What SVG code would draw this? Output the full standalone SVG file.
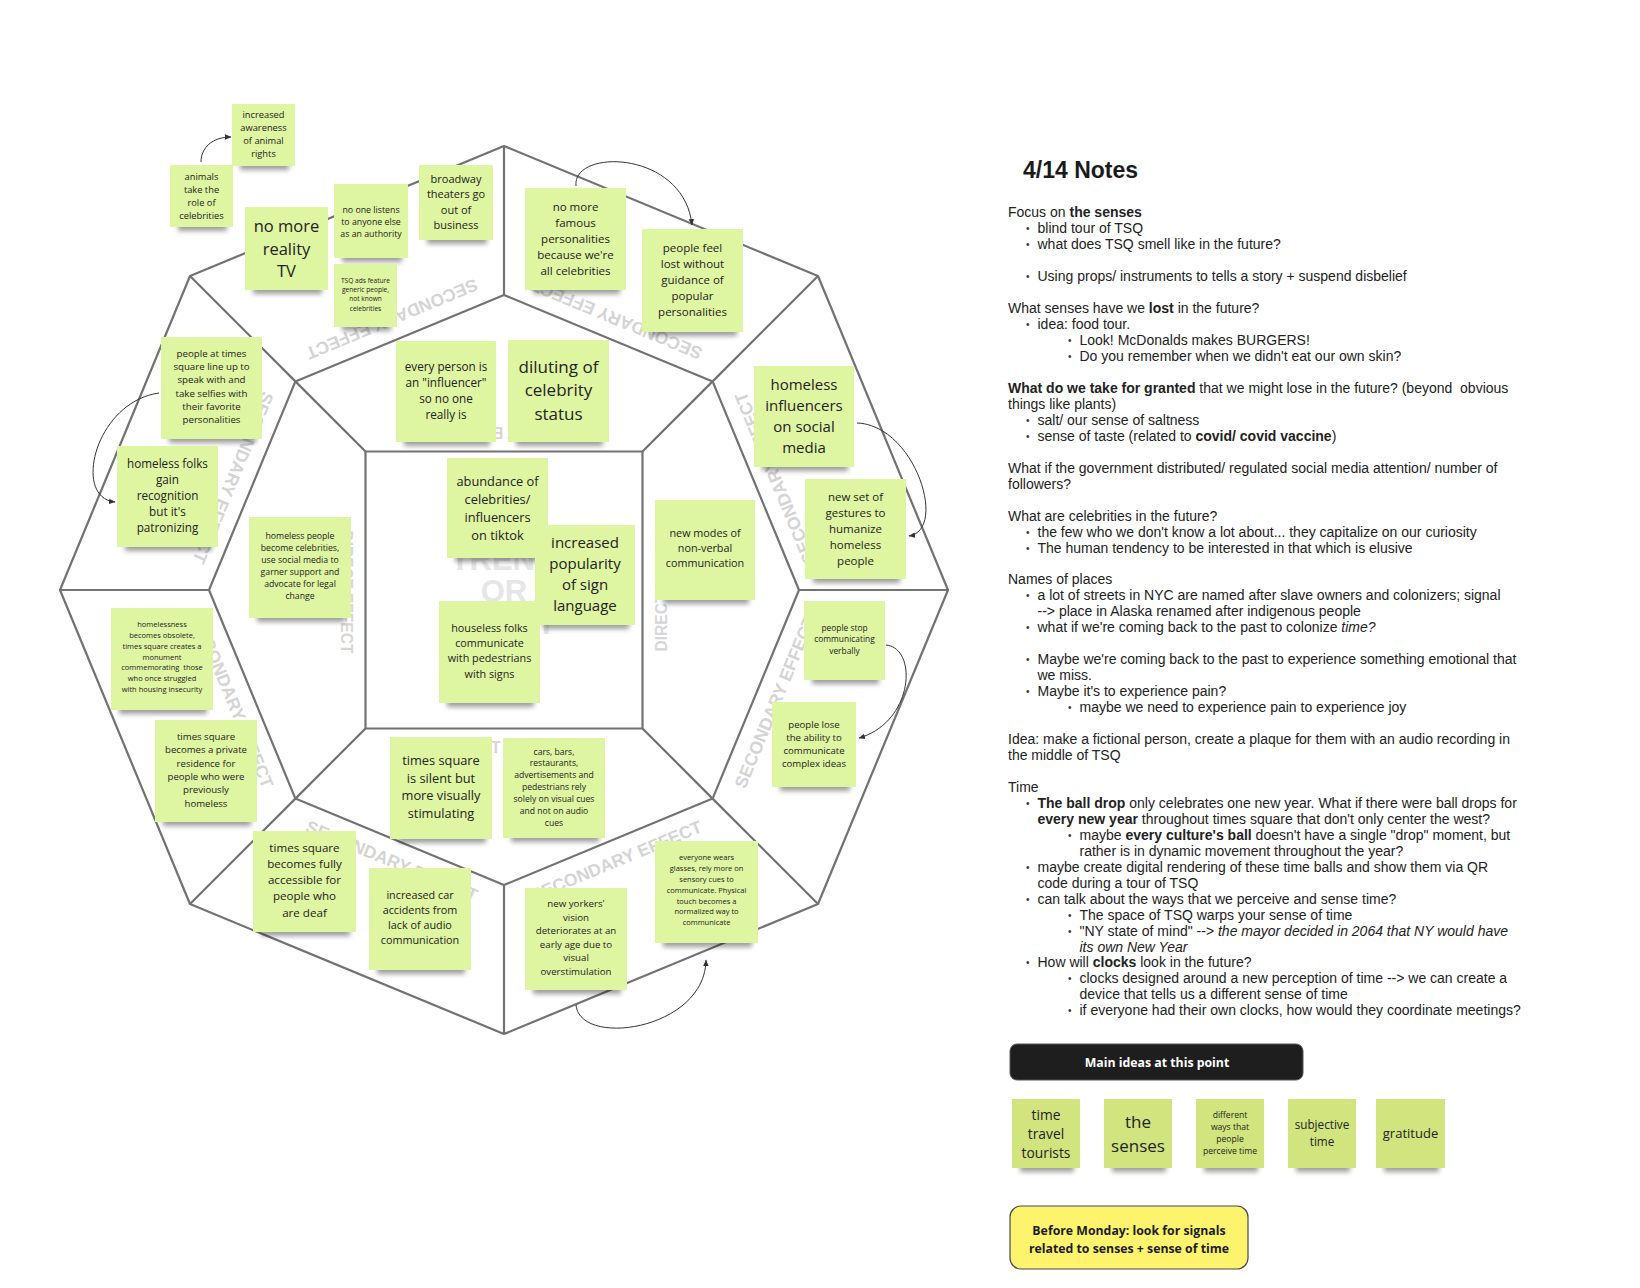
<svg xmlns="http://www.w3.org/2000/svg" width="1640" height="1288" viewBox="0 0 1640 1288">
<defs>
<filter id="bl" x="-30%" y="-100%" width="160%" height="300%"><feGaussianBlur stdDeviation="2.6"/></filter>
<marker id="ar" markerWidth="7" markerHeight="7" refX="6" refY="3.5" orient="auto" markerUnits="userSpaceOnUse"><path d="M0,0.8 L6.5,3.5 L0,6.2 z" fill="#333"/></marker>
</defs>
<style>
.ln{fill:none;stroke:#727272;stroke-width:2.2;stroke-linejoin:round}
.s{fill:#def5a1}
.s2{fill:#d1e47d}
.sh{fill:#000;opacity:.38;filter:url(#bl)}
.t{font-family:"Open Sans","Noto Sans",sans-serif;fill:#232323;text-anchor:middle}
.wm{font-family:"Liberation Sans",Arial,sans-serif;font-weight:bold;fill:#d4d4d4;text-anchor:middle;font-size:17.5px}
.dw{font-family:"Liberation Sans",Arial,sans-serif;font-weight:bold;fill:#d6d6d6;text-anchor:middle;font-size:15.6px}
.cw{font-family:"Liberation Sans",Arial,sans-serif;font-weight:bold;fill:#e6e6e6;text-anchor:middle;font-size:31px}
.n{font-family:"Liberation Sans",Arial,sans-serif;font-size:14px;fill:#222}
.ttl{font-family:"Liberation Sans",Arial,sans-serif;font-size:23px;font-weight:bold;fill:#1a1a1a}
.b{font-weight:bold}
.i{font-style:italic}
.bu{font-family:"Liberation Sans",Arial,sans-serif;font-size:10px;fill:#333}
.cn{fill:none;stroke:#333;stroke-width:1}
</style>
<rect width="1640" height="1288" fill="#ffffff"/>

<g id="wheel">
<polygon class="ln" points="504,146 818,276 948,590 818,904 504,1034 190,904 60,590 190,276"/>
<polygon class="ln" points="504,295 712.6,381.4 799,590 712.6,798.6 504,885 295.4,798.6 209,590 295.4,381.4"/>
<rect class="ln" x="365.5" y="451.5" width="277" height="277"/>
<path class="ln" d="M504,295 L504,146 M712.6,381.4 L818,276 M799,590 L948,590 M712.6,798.6 L818,904 M504,885 L504,1034 M295.4,798.6 L190,904 M209,590 L60,590 M295.4,381.4 L190,276 M365.5,451.5 L295.4,381.4 M642.5,451.5 L712.6,381.4 M642.5,728.5 L712.6,798.6 M365.5,728.5 L295.4,798.6"/>
</g>

<g id="watermarks">
<text class="wm" transform="translate(391.9,319.3) rotate(157.5)" x="0" y="6.3">SECONDARY EFFECT</text>
<text class="wm" transform="translate(616.1,319.3) rotate(-157.5)" x="0" y="6.3">SECONDARY EFFECT</text>
<text class="wm" transform="translate(774.7,477.9) rotate(-112.5)" x="0" y="6.3">SECONDARY EFFECT</text>
<text class="wm" transform="translate(774.7,702.1) rotate(-67.5)" x="0" y="6.3">SECONDARY EFFECT</text>
<text class="wm" transform="translate(616.1,860.7) rotate(-22.5)" x="0" y="6.3">SECONDARY EFFECT</text>
<text class="wm" transform="translate(391.9,860.7) rotate(22.5)" x="0" y="6.3">SECONDARY EFFECT</text>
<text class="wm" transform="translate(233.3,702.1) rotate(67.5)" x="0" y="6.3">SECONDARY EFFECT</text>
<text class="wm" transform="translate(233.3,477.9) rotate(112.5)" x="0" y="6.3">SECONDARY EFFECT</text>
<text class="dw" transform="translate(661,590) rotate(-90)" x="0" y="5.6">DIRECT EFFECT</text>
<text class="dw" transform="translate(347,592) rotate(90)" x="0" y="5.6">DIRECT EFFECT</text>
<text class="dw" transform="translate(504,433) rotate(180)" x="0" y="5.6">DIRECT EFFECT</text>
<text class="dw" transform="translate(504,747)" x="0" y="5.6">DIRECT EFFECT</text>
<text class="cw" x="504" y="570">TREND</text>
<text class="cw" x="504" y="602">OR</text>
<text class="cw" x="504" y="634">EVENT</text>
</g>

<g id="n-awareness"><rect class="sh" x="240" y="160" width="49" height="10"/><rect class="s" x="232" y="104" width="63" height="62"/>
<text class="t" font-size="9.3"><tspan x="263.5" y="117.7">increased</tspan><tspan x="263.5" y="130.7">awareness</tspan><tspan x="263.5" y="143.7">of animal</tspan><tspan x="263.5" y="156.7">rights</tspan></text></g>

<g id="n-animals"><rect class="sh" x="178" y="221" width="49" height="10"/><rect class="s" x="170" y="165" width="63" height="62"/>
<text class="t" font-size="9.3"><tspan x="201.5" y="179.7">animals</tspan><tspan x="201.5" y="192.7">take the</tspan><tspan x="201.5" y="205.7">role of</tspan><tspan x="201.5" y="218.7">celebrities</tspan></text></g>

<g id="n-reality"><rect class="sh" x="253" y="284" width="69" height="10"/><rect class="s" x="245" y="207" width="83" height="83"/>
<text class="t" font-size="16.5"><tspan x="286.5" y="232">no more</tspan><tspan x="286.5" y="254.6">reality</tspan><tspan x="286.5" y="277">TV</tspan></text></g>

<g id="n-listens"><rect class="sh" x="342" y="252" width="60" height="10"/><rect class="s" x="334" y="184" width="74" height="74"/>
<text class="t" font-size="8.8"><tspan x="371" y="212.8">no one listens</tspan><tspan x="371" y="224.8">to anyone else</tspan><tspan x="371" y="236.8">as an authority</tspan></text></g>

<g id="n-tsqads"><rect class="sh" x="342" y="321" width="49" height="10"/><rect class="s" x="334" y="264" width="63" height="63"/>
<text class="t" font-size="6.6"><tspan x="365.5" y="283.1">TSQ ads feature</tspan><tspan x="365.5" y="292.4">generic people,</tspan><tspan x="365.5" y="301.4">not known</tspan><tspan x="365.5" y="311">celebrities</tspan></text></g>

<g id="n-broadway"><rect class="sh" x="427" y="234" width="60" height="10"/><rect class="s" x="419" y="165" width="74" height="75"/>
<text class="t" font-size="11"><tspan x="456" y="182.5">broadway</tspan><tspan x="456" y="198.1">theaters go</tspan><tspan x="456" y="213.7">out of</tspan><tspan x="456" y="229.3">business</tspan></text></g>

<g id="n-famous"><rect class="sh" x="533" y="284" width="87" height="10"/><rect class="s" x="525" y="188" width="101" height="102"/>
<text class="t" font-size="11.5"><tspan x="575.5" y="210.7">no more</tspan><tspan x="575.5" y="226.7">famous</tspan><tspan x="575.5" y="242.7">personalities</tspan><tspan x="575.5" y="258.7">because we're</tspan><tspan x="575.5" y="274.7">all celebrities</tspan></text></g>

<g id="n-lost"><rect class="sh" x="650" y="326" width="87" height="10"/><rect class="s" x="642" y="229" width="101" height="103"/>
<text class="t" font-size="11.5"><tspan x="692.5" y="251.7">people feel</tspan><tspan x="692.5" y="267.7">lost without</tspan><tspan x="692.5" y="283.7">guidance of</tspan><tspan x="692.5" y="299.7">popular</tspan><tspan x="692.5" y="315.7">personalities</tspan></text></g>

<g id="n-lineup"><rect class="sh" x="169" y="433" width="87" height="10"/><rect class="s" x="161" y="337" width="101" height="102"/>
<text class="t" font-size="9.7"><tspan x="211.5" y="356.8">people at times</tspan><tspan x="211.5" y="370.1">square line up to</tspan><tspan x="211.5" y="383.4">speak with and</tspan><tspan x="211.5" y="396.7">take selfies with</tspan><tspan x="211.5" y="410">their favorite</tspan><tspan x="211.5" y="423.3">personalities</tspan></text></g>

<g id="n-everyperson"><rect class="sh" x="404" y="436" width="86" height="10"/><rect class="s" x="396" y="341" width="100" height="101"/>
<text class="t" font-size="11.7"><tspan x="446" y="370.8">every person is</tspan><tspan x="446" y="386.8">an "influencer"</tspan><tspan x="446" y="402.8">so no one</tspan><tspan x="446" y="418.8">really is</tspan></text></g>

<g id="n-diluting"><rect class="sh" x="516" y="436" width="87" height="10"/><rect class="s" x="508" y="340" width="101" height="102"/>
<text class="t" font-size="17"><tspan x="558.5" y="372.5">diluting of</tspan><tspan x="558.5" y="396">celebrity</tspan><tspan x="558.5" y="419.5">status</tspan></text></g>

<g id="n-influencers"><rect class="sh" x="762" y="461" width="86" height="10"/><rect class="s" x="754" y="366" width="100" height="101"/>
<text class="t" font-size="15"><tspan x="804" y="389.5">homeless</tspan><tspan x="804" y="410.5">influencers</tspan><tspan x="804" y="431.5">on social</tspan><tspan x="804" y="452.5">media</tspan></text></g>

<g id="n-gestures"><rect class="sh" x="813" y="573" width="87" height="10"/><rect class="s" x="805" y="479" width="101" height="100"/>
<text class="t" font-size="11.5"><tspan x="855.5" y="500.5">new set of</tspan><tspan x="855.5" y="516.7">gestures to</tspan><tspan x="855.5" y="532.9">humanize</tspan><tspan x="855.5" y="549.1">homeless</tspan><tspan x="855.5" y="565.3">people</tspan></text></g>

<g id="n-recognition"><rect class="sh" x="125" y="541" width="87" height="10"/><rect class="s" x="117" y="446" width="101" height="101"/>
<text class="t" font-size="11.7"><tspan x="167.5" y="467.5">homeless folks</tspan><tspan x="167.5" y="483.7">gain</tspan><tspan x="167.5" y="499.9">recognition</tspan><tspan x="167.5" y="516.1">but it's</tspan><tspan x="167.5" y="532.3">patronizing</tspan></text></g>

<g id="n-homelesscelebs"><rect class="sh" x="257" y="612" width="88" height="10"/><rect class="s" x="249" y="517" width="102" height="101"/>
<text class="t" font-size="8.7"><tspan x="300" y="538.5">homeless people</tspan><tspan x="300" y="550.5">become celebrities,</tspan><tspan x="300" y="562.5">use social media to</tspan><tspan x="300" y="574.5">garner support and</tspan><tspan x="300" y="586.5">advocate for legal</tspan><tspan x="300" y="598.5">change</tspan></text></g>

<g id="n-abundance"><rect class="sh" x="455" y="552" width="87" height="10"/><rect class="s" x="447" y="458" width="101" height="100"/>
<text class="t" font-size="12.8"><tspan x="497.5" y="485.8">abundance of</tspan><tspan x="497.5" y="503.8">celebrities/</tspan><tspan x="497.5" y="521.8">influencers</tspan><tspan x="497.5" y="539.8">on tiktok</tspan></text></g>

<g id="n-signlanguage"><rect class="sh" x="543" y="619" width="86" height="10"/><rect class="s" x="535" y="525" width="100" height="100"/>
<text class="t" font-size="15"><tspan x="585" y="547.5">increased</tspan><tspan x="585" y="568.6">popularity</tspan><tspan x="585" y="589.7">of sign</tspan><tspan x="585" y="610.8">language</tspan></text></g>

<g id="n-houseless"><rect class="sh" x="447" y="697" width="87" height="10"/><rect class="s" x="439" y="601" width="101" height="102"/>
<text class="t" font-size="10.8"><tspan x="489.5" y="631.8">houseless folks</tspan><tspan x="489.5" y="647.1">communicate</tspan><tspan x="489.5" y="662.4">with pedestrians</tspan><tspan x="489.5" y="677.7">with signs</tspan></text></g>

<g id="n-nonverbal"><rect class="sh" x="663" y="594" width="86" height="10"/><rect class="s" x="655" y="500" width="100" height="100"/>
<text class="t" font-size="10.8"><tspan x="705" y="536.9">new modes of</tspan><tspan x="705" y="552.1">non-verbal</tspan><tspan x="705" y="567.3">communication</tspan></text></g>

<g id="n-stopverbal"><rect class="sh" x="812" y="674" width="67" height="10"/><rect class="s" x="804" y="601" width="81" height="79"/>
<text class="t" font-size="8.4"><tspan x="844.5" y="631">people stop</tspan><tspan x="844.5" y="642.4">communicating</tspan><tspan x="844.5" y="653.8">verbally</tspan></text></g>

<g id="n-complexideas"><rect class="sh" x="780" y="781" width="70" height="10"/><rect class="s" x="772" y="702" width="84" height="85"/>
<text class="t" font-size="9.6"><tspan x="814" y="727.8">people lose</tspan><tspan x="814" y="740.9">the ability to</tspan><tspan x="814" y="754">communicate</tspan><tspan x="814" y="767.1">complex ideas</tspan></text></g>

<g id="n-obsolete"><rect class="sh" x="119" y="704" width="88" height="10"/><rect class="s" x="111" y="608" width="102" height="102"/>
<text class="t" font-size="7.5" xml:space="preserve"><tspan x="162" y="627.4">homelessness</tspan><tspan x="162" y="638.1">becomes obsolete,</tspan><tspan x="162" y="648.8">times square creates a</tspan><tspan x="162" y="659.5">monument</tspan><tspan x="162" y="670.2">commemorating  those</tspan><tspan x="162" y="680.9">who once struggled</tspan><tspan x="162" y="691.6">with housing insecurity</tspan></text></g>

<g id="n-residence"><rect class="sh" x="163" y="816" width="88" height="10"/><rect class="s" x="155" y="720" width="102" height="102"/>
<text class="t" font-size="9.6"><tspan x="206" y="739.8">times square</tspan><tspan x="206" y="753.2">becomes a private</tspan><tspan x="206" y="766.6">residence for</tspan><tspan x="206" y="780">people who were</tspan><tspan x="206" y="793.4">previously</tspan><tspan x="206" y="806.8">homeless</tspan></text></g>

<g id="n-accessible"><rect class="sh" x="261" y="926" width="89" height="10"/><rect class="s" x="253" y="831" width="103" height="101"/>
<text class="t" font-size="11.6"><tspan x="304.5" y="851.7">times square</tspan><tspan x="304.5" y="867.9">becomes fully</tspan><tspan x="304.5" y="884.1">accessible for</tspan><tspan x="304.5" y="900.3">people who</tspan><tspan x="304.5" y="916.5">are deaf</tspan></text></g>

<g id="n-caraccidents"><rect class="sh" x="377" y="964" width="88" height="10"/><rect class="s" x="369" y="868" width="102" height="102"/>
<text class="t" font-size="10.8"><tspan x="420" y="898.8">increased car</tspan><tspan x="420" y="914">accidents from</tspan><tspan x="420" y="929.2">lack of audio</tspan><tspan x="420" y="944.4">communication</tspan></text></g>

<g id="n-silent"><rect class="sh" x="398" y="833" width="88" height="10"/><rect class="s" x="390" y="737" width="102" height="102"/>
<text class="t" font-size="12.8"><tspan x="441" y="764.8">times square</tspan><tspan x="441" y="782.5">is silent but</tspan><tspan x="441" y="800.2">more visually</tspan><tspan x="441" y="817.9">stimulating</tspan></text></g>

<g id="n-visualcues"><rect class="sh" x="511" y="832" width="88" height="10"/><rect class="s" x="503" y="738" width="102" height="100"/>
<text class="t" font-size="8.6"><tspan x="554" y="754.5">cars, bars,</tspan><tspan x="554" y="766.4">restaurants,</tspan><tspan x="554" y="778.3">advertisements and</tspan><tspan x="554" y="790.2">pedestrians rely</tspan><tspan x="554" y="802.1">solely on visual cues</tspan><tspan x="554" y="814">and not on audio</tspan><tspan x="554" y="825.9">cues</tspan></text></g>

<g id="n-vision"><rect class="sh" x="533" y="984" width="88" height="10"/><rect class="s" x="525" y="888" width="102" height="102"/>
<text class="t" font-size="9.7"><tspan x="576" y="907.4">new yorkers'</tspan><tspan x="576" y="920.9">vision</tspan><tspan x="576" y="934.4">deteriorates at an</tspan><tspan x="576" y="947.9">early age due to</tspan><tspan x="576" y="961.4">visual</tspan><tspan x="576" y="974.9">overstimulation</tspan></text></g>

<g id="n-glasses"><rect class="sh" x="663" y="937" width="89" height="10"/><rect class="s" x="655" y="841" width="103" height="102"/>
<text class="t" font-size="7.5"><tspan x="706.5" y="860.4">everyone wears</tspan><tspan x="706.5" y="871.2">glasses, rely more on</tspan><tspan x="706.5" y="882">sensory cues to</tspan><tspan x="706.5" y="892.8">communicate. Physical</tspan><tspan x="706.5" y="903.6">touch becomes a</tspan><tspan x="706.5" y="914.4">normalized way to</tspan><tspan x="706.5" y="925.2">communicate</tspan></text></g>

<g id="connectors">
<path class="cn" d="M201,162 C201,148 212,137 231,137" marker-end="url(#ar)"/>
<path class="cn" d="M576,186 C572,148 684,150 692,225" marker-end="url(#ar)"/>
<path class="cn" d="M857,423 C915,425 948,530 909,536" marker-end="url(#ar)"/>
<path class="cn" d="M159,393 C95,402 72,498 115,502" marker-end="url(#ar)"/>
<path class="cn" d="M886,645 C918,648 914,722 859,738" marker-end="url(#ar)"/>
<path class="cn" d="M576,1005 C580,1048 705,1030 706,960" marker-end="url(#ar)"/>
</g>

<g id="notes">
<text class="ttl" x="1023" y="178">4/14 Notes</text>
<text class="n" x="1008" y="217.3">Focus on <tspan class="b">the senses</tspan></text>
<text class="bu" x="1026" y="232.3">•</text><text class="n" x="1037.5" y="233.3">blind tour of TSQ</text>
<text class="bu" x="1026" y="248.2">•</text><text class="n" x="1037.5" y="249.2">what does TSQ smell like in the future?</text>
<text class="bu" x="1026" y="280.1">•</text><text class="n" x="1037.5" y="281.1">Using props/ instruments to tells a story + suspend disbelief</text>
<text class="n" x="1008" y="313.1">What senses have we <tspan class="b">lost</tspan> in the future?</text>
<text class="bu" x="1026" y="328">•</text><text class="n" x="1037.5" y="329">idea: food tour.</text>
<text class="bu" x="1068" y="344">•</text><text class="n" x="1079.5" y="345">Look! McDonalds makes BURGERS!</text>
<text class="bu" x="1068" y="359.9">•</text><text class="n" x="1079.5" y="360.9">Do you remember when we didn't eat our own skin?</text>
<text class="n" x="1008" y="392.9" xml:space="preserve"><tspan class="b">What do we take for granted</tspan> that we might lose in the future? (beyond  obvious</text>
<text class="n" x="1008" y="408.8">things like plants)</text>
<text class="bu" x="1026" y="423.8">•</text><text class="n" x="1037.5" y="424.8">salt/ our sense of saltness</text>
<text class="bu" x="1026" y="439.7">•</text><text class="n" x="1037.5" y="440.7">sense of taste (related to <tspan class="b">covid/ covid vaccine</tspan>)</text>
<text class="n" x="1008" y="472.7">What if the government distributed/ regulated social media attention/ number of</text>
<text class="n" x="1008" y="488.6">followers?</text>
<text class="n" x="1008" y="520.5">What are celebrities in the future?</text>
<text class="bu" x="1026" y="535.5">•</text><text class="n" x="1037.5" y="536.5">the few who we don't know a lot about... they capitalize on our curiosity</text>
<text class="bu" x="1026" y="551.5">•</text><text class="n" x="1037.5" y="552.5">The human tendency to be interested in that which is elusive</text>
<text class="n" x="1008" y="584.4">Names of places</text>
<text class="bu" x="1026" y="599.3">•</text><text class="n" x="1037.5" y="600.3">a lot of streets in NYC are named after slave owners and colonizers; signal</text>
<text class="n" x="1037.5" y="616.3">--&gt; place in Alaska renamed after indigenous people</text>
<text class="bu" x="1026" y="631.3">•</text><text class="n" x="1037.5" y="632.3">what if we're coming back to the past to colonize <tspan class="i">time?</tspan></text>
<text class="bu" x="1026" y="663.2">•</text><text class="n" x="1037.5" y="664.2">Maybe we're coming back to the past to experience something emotional that</text>
<text class="n" x="1037.5" y="680.1">we miss.</text>
<text class="bu" x="1026" y="695.1">•</text><text class="n" x="1037.5" y="696.1">Maybe it's to experience pain?</text>
<text class="bu" x="1068" y="711.1">•</text><text class="n" x="1079.5" y="712.1">maybe we need to experience pain to experience joy</text>
<text class="n" x="1008" y="744">Idea: make a fictional person, create a plaque for them with an audio recording in</text>
<text class="n" x="1008" y="760">the middle of TSQ</text>
<text class="n" x="1008" y="791.9">Time</text>
<text class="bu" x="1026" y="806.8">•</text><text class="n" x="1037.5" y="807.8"><tspan class="b">The ball drop</tspan> only celebrates one new year. What if there were ball drops for</text>
<text class="n" x="1037.5" y="823.8"><tspan class="b">every new year</tspan> throughout times square that don't only center the west?</text>
<text class="bu" x="1068" y="838.7">•</text><text class="n" x="1079.5" y="839.7">maybe <tspan class="b">every culture's ball</tspan> doesn't have a single "drop" moment, but</text>
<text class="n" x="1079.5" y="855.7">rather is in dynamic movement throughout the year?</text>
<text class="bu" x="1026" y="870.7">•</text><text class="n" x="1037.5" y="871.7">maybe create digital rendering of these time balls and show them via QR</text>
<text class="n" x="1037.5" y="887.6">code during a tour of TSQ</text>
<text class="bu" x="1026" y="902.6">•</text><text class="n" x="1037.5" y="903.6">can talk about the ways that we perceive and sense time?</text>
<text class="bu" x="1068" y="918.5">•</text><text class="n" x="1079.5" y="919.5">The space of TSQ warps your sense of time</text>
<text class="bu" x="1068" y="934.5">•</text><text class="n" x="1079.5" y="935.5">"NY state of mind" --&gt; <tspan class="i">the mayor decided in 2064 that NY would have</tspan></text>
<text class="n i" x="1079.5" y="951.5">its own New Year</text>
<text class="bu" x="1026" y="966.4">•</text><text class="n" x="1037.5" y="967.4">How will <tspan class="b">clocks</tspan> look in the future?</text>
<text class="bu" x="1068" y="982.4">•</text><text class="n" x="1079.5" y="983.4">clocks designed around a new perception of time --&gt; we can create a</text>
<text class="n" x="1079.5" y="999.3">device that tells us a different sense of time</text>
<text class="bu" x="1068" y="1014.3">•</text><text class="n" x="1079.5" y="1015.3">if everyone had their own clocks, how would they coordinate meetings?</text>
</g>

<g id="main-ideas-header">
<rect x="1010" y="1044" width="293" height="36" rx="7" fill="#1e1e1e" stroke="#555" stroke-width="1"/>
<text x="1157" y="1066.5" font-family="'Open Sans','Noto Sans',sans-serif" font-weight="bold" font-size="12.3" fill="#ffffff" text-anchor="middle">Main ideas at this point</text>
</g>

<g id="idea-timetravel"><rect class="sh" x="1020" y="1162" width="54" height="10"/><rect class="s2" x="1012" y="1099" width="68" height="69"/>
<text class="t" font-size="13.8"><tspan x="1046" y="1120.4">time</tspan><tspan x="1046" y="1139.2">travel</tspan><tspan x="1046" y="1158">tourists</tspan></text></g>
<g id="idea-senses"><rect class="sh" x="1112" y="1162" width="54" height="10"/><rect class="s2" x="1104" y="1099" width="68" height="69"/>
<text class="t" font-size="17"><tspan x="1138" y="1127.7">the</tspan><tspan x="1138" y="1151.7">senses</tspan></text></g>
<g id="idea-perceive"><rect class="sh" x="1204" y="1162" width="54" height="10"/><rect class="s2" x="1196" y="1099" width="68" height="69"/>
<text class="t" font-size="8.6"><tspan x="1230" y="1117.8">different</tspan><tspan x="1230" y="1130">ways that</tspan><tspan x="1230" y="1142.2">people</tspan><tspan x="1230" y="1154.4">perceive time</tspan></text></g>
<g id="idea-subjective"><rect class="sh" x="1296" y="1162" width="54" height="10"/><rect class="s2" x="1288" y="1099" width="68" height="69"/>
<text class="t" font-size="11.7"><tspan x="1322" y="1129.1">subjective</tspan><tspan x="1322" y="1145.7">time</tspan></text></g>
<g id="idea-gratitude"><rect class="sh" x="1384" y="1162" width="55" height="10"/><rect class="s2" x="1376" y="1099" width="69" height="69"/>
<text class="t" font-size="13"><tspan x="1410.5" y="1138">gratitude</tspan></text></g>

<g id="before-monday">
<rect x="1010" y="1206" width="238" height="63" rx="11" fill="#fdf36c" stroke="#4a4a4a" stroke-width="1.2"/>
<text font-family="'Open Sans','Noto Sans',sans-serif" font-weight="bold" font-size="12.3" fill="#1c1c1c" text-anchor="middle"><tspan x="1129" y="1234.5">Before Monday: look for signals</tspan><tspan x="1129" y="1252.5">related to senses + sense of time</tspan></text>
</g>
</svg>
